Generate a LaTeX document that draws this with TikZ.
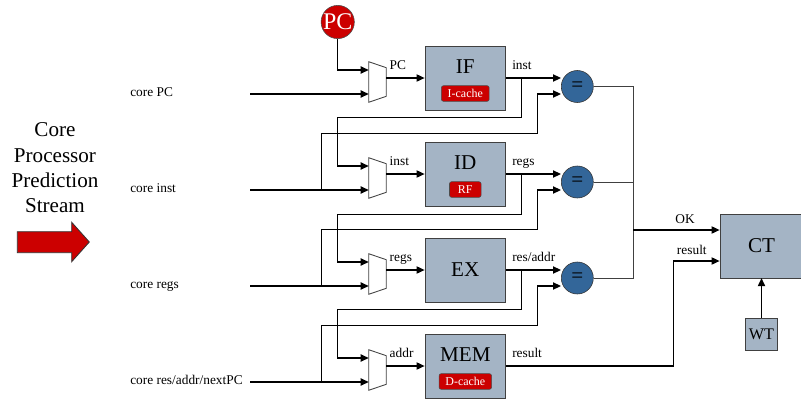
\documentclass[tikz,border=0pt]{standalone}
\usepackage{fontspec}
\setmainfont{Liberation Serif}
\usetikzlibrary{arrows.meta,calc}
\definecolor{stagefill}{HTML}{A4B4C5}
\definecolor{eqfill}{HTML}{336699}
\definecolor{pcred}{HTML}{CC0000}
\tikzset{
  stagebox/.style={draw=black!75, fill=stagefill, minimum width=2.02cm, minimum height=1.61cm, inner sep=0pt},
  ctbox/.style={stagebox, minimum width=2.08cm, minimum height=1.59cm, font=\fontsize{15}{18}\selectfont},
  wtbox/.style={draw=black!75, fill=stagefill, minimum size=0.8cm, inner sep=0pt, font=\fontsize{11.5}{13}\selectfont},
  mux/.style={minimum width=0.425cm, minimum height=1cm, inner sep=0pt},
  muxline/.style={draw=black!75, fill=white, line width=0.6pt},
  eqnode/.style={circle, draw=black!80, fill=eqfill, minimum size=0.8cm, inner sep=0pt, font=\fontsize{15}{18}\selectfont},
  pcnode/.style={circle, draw=black!70, fill=pcred, minimum size=0.8cm, inner sep=0pt, text=white, font=\fontsize{17}{20}\selectfont},
  badge/.style={draw=black!70, fill=pcred, rounded corners=1.5pt, text=white, font=\fontsize{8.5}{10}\selectfont,
    minimum width=0.79cm, minimum height=0.39cm, inner xsep=4.5pt, inner ysep=0pt},
  stagename/.style={font=\fontsize{15}{18}\selectfont, inner sep=0pt},
  lbl/.style={font=\fontsize{9.5}{11}\selectfont, inner sep=1pt},
  outlbl/.style={lbl, anchor=base west, xshift=3pt, yshift=6pt},
  muxlbl/.style={lbl, anchor=base west, xshift=1pt, yshift=6pt},
  corelbl/.style={lbl, anchor=base west, inner sep=0pt},
  flow/.style={-{Triangle[length=2mm, width=1.8mm]}, line width=0.9pt},
  thinwire/.style={line width=0.7pt, black!75},
}

\begin{document}
\begin{tikzpicture}[x=0.025cm, y=-0.025cm]
  \useasboundingbox (0,0) rectangle (801,402);

  % left side
  \node[align=center, font=\fontsize{15}{18}\selectfont] (stream) at (55,168) {Core\\Processor\\Prediction\\Stream};
  \draw[draw=black!80, fill=pcred, line width=0.6pt] (17.3,231.7) -- (71.7,231.7) -- (71.7,222.3) -- (89.3,242)
    -- (71.7,261.7) -- (71.7,252.7) -- (17.3,252.7) -- cycle;

  \node[corelbl] (cpc) at (130,96) {core PC};
  \node[corelbl] (cinst) at (130,192) {core inst};
  \node[corelbl] (cregs) at (130,288) {core regs};
  \node[corelbl] (cres) at (130,384) {core res/addr/nextPC};
  \coordinate (cpc-in) at (250,94);
  \coordinate (cinst-in) at (250,190);
  \coordinate (cregs-in) at (250,286);
  \coordinate (cres-in) at (250,382);

  % pipeline
  \node[pcnode] (pc) at (337.7,22) {PC};
  \node[mux] (m1) at (377.5,82) {};
  \node[mux] (m2) at (377.5,178) {};
  \node[mux] (m3) at (377.5,274) {};
  \node[mux] (m4) at (377.5,370) {};
  \foreach \m in {m1,m2,m3,m4}
    \draw[muxline] (\m.north west) -- ($(\m.north east)+(0,6)$) -- ($(\m.south east)+(0,-6)$) -- (\m.south west) -- cycle;

  \node[stagebox] (if) at (465.3,78) {};
  \node[stagename] at (465.3,67) {IF};
  \node[badge] (icache) at (465.3,93.5) {I-cache};
  \node[stagebox] (id) at (465.3,174) {};
  \node[stagename] at (465.3,163) {ID};
  \node[badge] (rf) at (465.3,189.5) {RF};
  \node[stagebox, font=\fontsize{15}{18}\selectfont] (ex) at (465.3,270) {EX};
  \node[stagebox] (mem) at (465.3,366) {};
  \node[stagename] at (465.3,355) {MEM};
  \node[badge] (dcache) at (465.3,381.5) {D-cache};

  \node[eqnode] (eq1) at (577.3,86.5) {=};
  \node[eqnode] (eq2) at (577.3,182) {=};
  \node[eqnode] (eq3) at (577.3,278) {=};

  \node[ctbox] (ct) at (761.5,246) {CT};
  \node[wtbox] (wt) at (761.5,334) {WT};

  % mux inputs
  \draw[flow] (pc) |- ($(m1.west)+(0,-12)$);
  \draw[flow] (cpc-in) -- ($(m1.west)+(0,12)$);
  \draw[flow] (cinst-in) -- ($(m2.west)+(0,12)$);
  \draw[flow] (cregs-in) -- ($(m3.west)+(0,12)$);
  \draw[flow] (cres-in) -- ($(m4.west)+(0,12)$);

  % mux to stage
  \draw[flow] (m1.east |- if.west) -- (if.west) node[muxlbl, pos=0] {PC};
  \draw[flow] (m2.east |- id.west) -- (id.west) node[muxlbl, pos=0] {inst};
  \draw[flow] (m3.east |- ex.west) -- (ex.west) node[muxlbl, pos=0] {regs};
  \draw[flow] (m4.east |- mem.west) -- (mem.west) node[muxlbl, pos=0] {addr};

  % stage outputs
  \draw[flow] (if.east) -- (eq1.west |- if.east) node[outlbl, pos=0] {inst};
  \draw[flow] (id.east) -- (eq2.west |- id.east) node[outlbl, pos=0] {regs};
  \draw[flow] (ex.east) -- (eq3.west |- ex.east) node[outlbl, pos=0] {res/addr};

  % forward to next mux
  \coordinate (br1) at (521.7,78);
  \coordinate (br2) at (521.7,174);
  \coordinate (br3) at (521.7,270);
  \draw[flow] (br1) |- (337.7,117.3) |- ($(m2.west)+(0,-12)$);
  \draw[flow] (br2) |- (337.7,214.3) |- ($(m3.west)+(0,-12)$);
  \draw[flow] (br3) |- (337.7,309.3) |- ($(m4.west)+(0,-12)$);

  % core values to compare
  \coordinate (j2) at (321.7,190);
  \coordinate (j3) at (321.7,286);
  \coordinate (j4) at (321.7,382);
  \draw[flow] (j2) |- (537.7,133.3) |- ($(eq1.west)+(0,7.5)$);
  \draw[flow] (j3) |- (537.7,229.3) |- ($(eq2.west)+(0,8)$);
  \draw[flow] (j4) |- (537.7,325.7) |- ($(eq3.west)+(0,8)$);

  % checker
  \coordinate (okj) at (633.3,230);
  \coordinate (resj) at (673.3,261);
  \draw[thinwire] (eq1.east) -| (633.3,278) -- (eq3.east);
  \draw[thinwire] (eq2.east) -- (eq2.east -| okj);
  \draw[flow] (okj) -- (okj -| ct.west) node[lbl, pos=0.6, anchor=base, yshift=4.5pt] {OK};
  \draw[flow] (mem.east) node[outlbl] {result} -| (resj) -- (resj -| ct.west) node[lbl, pos=0.4, anchor=base, yshift=4.5pt] {result};
  \draw[flow] (wt) -- (ct);
\end{tikzpicture}
\end{document}
